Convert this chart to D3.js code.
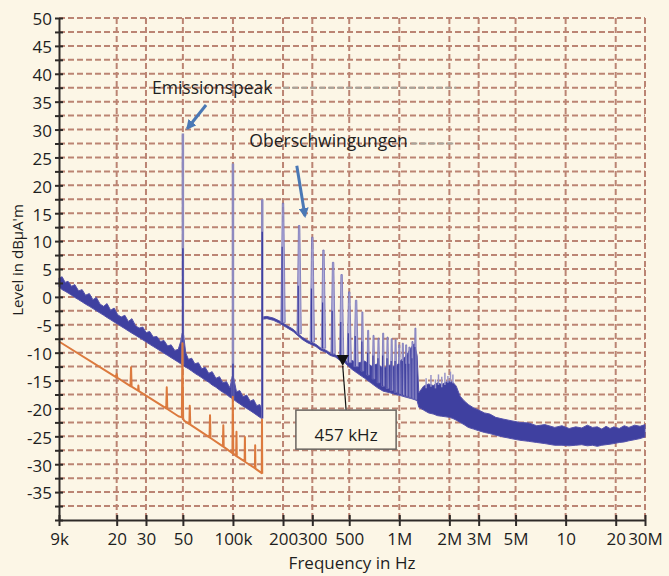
<!DOCTYPE html>
<html>
<head>
<meta charset="utf-8">
<script src="https://cdn.jsdelivr.net/npm/d3@7"></script>
<style>
  body { margin: 0; background: #fcf6e6; }
  svg { display: block; font-family: "Open Sans", sans-serif; }
</style>
</head>
<body>
<svg id="chart"></svg>
<script>
const width = 669;
const height = 576;

// axis ticks
const xTickValues = [9e3, 2e4, 3e4, 5e4, 1e5, 2e5, 3e5, 5e5, 1e6, 2e6, 3e6, 5e6, 1e7, 2e7, 3e7];
const xTickLabels = ["9k", "20", "30", "50", "100k", "200", "300", "500", "1M", "2M", "3M", "5M", "10", "20", "30M"];
const yLabelValues = [-35, -30, -25, -20, -15, -10, -5, 0, 5, 10, 15, 20, 25, 30, 35, 40, 45, 50];

// blue trace, 9 kHz - 150 kHz: noise band (upper / lower edge, dBµA/m)
const bandAFreq = [9000, 9400, 9800, 10200, 10700, 11200, 11800, 12400, 13000, 13700, 14400, 15100, 15900, 16700,
  17500, 18400, 19300, 20300, 21300, 22400, 23500, 24700, 26000, 27300, 28700, 30100, 31600, 33200, 34900, 36700,
  38500, 40500, 42500, 44700, 46900, 48500, 49500, 50500, 52000, 54000, 56500, 59000, 62000, 65000, 68000, 71500,
  75000, 79000, 83000, 87000, 91500, 96000, 99000, 101000, 105000, 110000, 115000, 121000, 127000, 133000, 139000,
  145000, 149000];
const bandAHigh = [3.4, 3.6, 2.6, 2.8, 1.9, 2.2, 1.1, 1.3, 0.3, 0.6, -0.5, -0.1, -1.3, -1.7, -1.2, -2.4, -2.0, -3.2,
  -3.6, -3.3, -4.4, -3.9, -5.2, -5.6, -5.4, -6.4, -6.2, -7.2, -7.1, -8.0, -7.8, -8.8, -8.6, -9.6, -9.4, -8.0, -6.5,
  -6.8, -10.0, -11.2, -11.0, -12.0, -11.8, -12.9, -12.6, -13.7, -13.4, -14.6, -14.3, -15.4, -15.2, -16.3, -14.2,
  -14.5, -17.0, -16.8, -17.9, -17.6, -18.7, -18.4, -19.5, -19.3, -20.1];
const bandALow = [1.8, 1.3, 1.0, 0.7, 0.3, -0.1, -0.5, -0.9, -1.3, -1.7, -2.1, -2.5, -2.9, -3.3, -3.7, -4.1, -4.5,
  -4.9, -5.3, -5.7, -6.1, -6.5, -6.9, -7.3, -7.7, -8.1, -8.5, -8.9, -9.3, -9.7, -10.1, -10.5, -10.9, -11.3, -11.7,
  -12.0, -12.2, -12.4, -12.6, -12.9, -13.3, -13.7, -14.1, -14.5, -14.9, -15.3, -15.8, -16.2, -16.7, -17.1, -17.5,
  -18.0, -18.2, -18.4, -18.8, -19.2, -19.6, -20.0, -20.4, -20.8, -21.2, -21.6, -21.8];

// blue trace, 150 kHz - 30 MHz
const bandBFreq = [150500, 160000, 175000, 190000, 210000, 230000, 260000, 280000, 315000, 335000, 365000, 385000,
  415000, 435000, 465000, 485000, 520000, 560000, 620000, 680000, 740000, 800000, 880000, 950000, 1020000, 1100000,
  1170000, 1230000, 1280000, 1310000, 1400000, 1500000, 1600000, 1700000, 1800000, 1900000, 2000000, 2100000,
  2200000, 2320000, 2450000, 2600000, 2800000, 3000000, 3250000, 3500000, 3800000, 4200000, 4700000, 5300000,
  6000000, 6700000, 7500000, 8600000, 9500000, 10500000, 11500000, 12500000, 13500000, 14500000, 15500000,
  16500000, 17500000, 18500000, 19500000, 21000000, 22500000, 24000000, 26000000, 28000000, 30000000];
const bandBHigh = [-3.6, -3.5, -3.8, -4.3, -5.1, -5.8, -7.2, -7.8, -8.5, -9.1, -9.6, -10.1, -10.4, -10.9, -11.1,
  -11.6, -11.4, -11.9, -11.5, -12.4, -12.0, -12.8, -12.2, -12.6, -11.4, -10.6, -9.2, -8.4, -10.5, -17.2, -16.0,
  -15.6, -15.9, -15.4, -15.7, -15.3, -15.1, -15.3, -16.0, -17.8, -18.6, -19.3, -19.9, -20.3, -20.8, -21.0, -21.6,
  -21.9, -22.2, -22.5, -22.6, -23.1, -22.9, -23.4, -23.1, -23.6, -23.3, -23.5, -23.0, -23.4, -23.3, -23.7, -23.2,
  -23.6, -23.3, -23.6, -23.1, -23.4, -23.0, -23.2, -22.9];
const bandBLow = [-4.0, -3.9, -4.2, -4.7, -5.5, -6.2, -7.6, -8.2, -8.9, -9.5, -10.0, -10.5, -10.8, -11.3, -11.6,
  -12.2, -13.0, -13.7, -14.6, -15.5, -16.3, -16.9, -17.2, -17.5, -17.7, -18.0, -18.2, -18.4, -18.6, -19.8, -20.3,
  -20.8, -21.0, -21.3, -21.4, -21.5, -21.6, -21.8, -22.1, -22.5, -22.9, -23.4, -23.7, -24.0, -24.3, -24.5, -24.8,
  -25.1, -25.4, -25.7, -25.9, -26.1, -26.3, -26.6, -26.6, -26.7, -26.6, -26.5, -26.7, -26.6, -26.8, -26.6, -26.5,
  -26.4, -26.3, -26.1, -26.0, -25.8, -25.6, -25.4, -25.1];

// main emission peaks (blue trace)
const peakFreq = [50000, 100000, 150000];
const peakBase = [-12.2, -18.4, -21.8];
const peakInner = [8.7, -12.0, 11.7];
const peakTop = [29.3, 23.9, 17.5];

// harmonics of the 50 kHz emission (Oberschwingungen)
const harmFreq = [200000, 250000, 300000, 350000, 400000, 450000, 500000, 550000, 600000, 650000, 700000, 750000,
  800000, 850000, 900000, 950000, 1000000, 1050000, 1100000, 1150000, 1200000, 1250000];
const harmBase = [-4.6, -6.6, -8.1, -9.2, -10.2, -10.9, -11.8, -12.5, -13.3, -14.0, -14.7, -15.4, -16.0, -16.4,
  -16.8, -17.1, -17.4, -17.6, -17.8, -18.0, -18.2, -18.4];
const harmInner = [9.0, 2.0, 1.5, -1.0, -2.5, -4.5, -6.5, -7.0, -8.0, -10.0, -10.5, -11.0, -10.5, -11.0, -11.5,
  -11.5, -12.0, -11.5, -12.0, -12.0, -11.0, -9.0];
const harmTop = [16.8, 12.8, 10.7, 8.4, 6.2, 4.0, 0.9, -0.6, -2.7, -6.0, -6.9, -7.4, -6.5, -7.2, -7.5, -7.7, -8.6,
  -8.3, -8.6, -9.0, -8.0, -5.6];

// narrow noise spikes 1.4 - 2.2 MHz
const spikeFreq = [1450000, 1550000, 1650000, 1720000, 1800000, 1880000, 1960000, 2030000, 2100000];
const spikeBase = [-16.4, -16.1, -16.4, -15.8, -16.2, -15.8, -15.4, -15.3, -15.5];
const spikeTop = [-14.6, -14.0, -14.8, -13.9, -14.3, -13.6, -14.2, -13.4, -13.9];

// orange trace (9 kHz - 150 kHz)
const orangeFreq = [9000, 19800, 20000, 20200, 24200, 24400, 24600, 26900, 27000, 27200, 39700, 40000, 40300,
  47000, 49300, 49700, 50200, 50800, 54700, 55000, 55400, 72300, 72800, 73300, 87000, 87500, 88000, 99300, 99800,
  100500, 104500, 105000, 105500, 117500, 118000, 118500, 135500, 136000, 136500, 149000, 149500, 150000];
const orangeLevel = [-8.0, -14.4, -13.8, -14.5, -16.0, -12.6, -16.1, -16.8, -15.9, -16.9, -20.0, -16.2, -20.1,
  -21.4, -21.6, -8.3, -21.8, -22.2, -22.8, -19.5, -22.9, -25.2, -21.2, -25.3, -26.8, -23.0, -26.9, -28.0, -17.9,
  -28.1, -28.5, -24.2, -28.6, -29.5, -25.1, -29.6, -30.7, -26.6, -30.8, -31.6, -22.0, -31.7];

// marker
const markerFreq = 457000;
const markerLevel = -12.4;

const svg = d3.select("#chart")
  .attr("width", width)
  .attr("height", height);

svg.append("rect")
  .attr("width", width)
  .attr("height", height)
  .attr("fill", "#fcf6e6");

const x = d3.scaleLog().domain([9e3, 3e7]).range([59, 645]);
const y = d3.scaleLinear().domain([-40, 50]).range([520, 18]);

const gridColor = "#bb8473";

// grid
const grid = svg.append("g");
grid.selectAll("line.h")
  .data(d3.range(-37.5, 50.1, 2.5))
  .enter()
  .append("line")
  .attr("x1", x(9e3))
  .attr("x2", x(3e7))
  .attr("y1", d => y(d))
  .attr("y2", d => y(d))
  .attr("stroke", gridColor)
  .attr("stroke-width", 2)
  .attr("stroke-dasharray", "6,3");

grid.selectAll("line.v")
  .data(xTickValues.slice(1))
  .enter()
  .append("line")
  .attr("x1", d => x(d))
  .attr("x2", d => x(d))
  .attr("y1", y(50))
  .attr("y2", y(-40))
  .attr("stroke", gridColor)
  .attr("stroke-width", 2)
  .attr("stroke-dasharray", "6,3");

// greyish leftover dashes behind the labels
grid.append("line")
  .attr("x1", x(200000)).attr("x2", x(2200000))
  .attr("y1", y(37.5)).attr("y2", y(37.5))
  .attr("stroke", "#a8a49a").attr("stroke-width", 2).attr("stroke-dasharray", "6,3");
grid.append("line")
  .attr("x1", x(1180000)).attr("x2", x(2200000))
  .attr("y1", y(27.5)).attr("y2", y(27.5))
  .attr("stroke", "#a8a49a").attr("stroke-width", 2).attr("stroke-dasharray", "6,3");

const blue = "#3f40a0";
const lavender = "#9894c8";

const area = d3.area()
  .x(d => x(d.f))
  .y0(d => y(d.lo))
  .y1(d => y(d.hi));

const bandA = bandAFreq.map((f, i) => ({ f: f, hi: bandAHigh[i], lo: bandALow[i] }));
const bandB = bandBFreq.map((f, i) => ({ f: f, hi: bandBHigh[i], lo: bandBLow[i] }));

[bandA, bandB].forEach(band => {
  svg.append("path")
    .datum(band)
    .attr("d", area)
    .attr("fill", blue)
    .attr("stroke", "#5552ab")
    .attr("stroke-width", 1)
    .attr("stroke-linejoin", "round");
});

// harmonics
harmFreq.forEach((f, i) => {
  const cx = x(f);
  const wb = f <= 550000 ? 2.2 : 1.3;
  const wt = f <= 550000 ? 0.7 : 0.5;
  const yb = y(harmBase[i]);
  const yt = y(harmTop[i]);
  svg.append("path")
    .attr("d", `M${cx - wb},${yb} L${cx - wt},${yt} L${cx + wt},${yt} L${cx + wb},${yb} Z`)
    .attr("fill", "#aeaad6")
    .attr("stroke", "#7471b8")
    .attr("stroke-width", 0.8);
  svg.append("line")
    .attr("x1", cx - wb * 0.4).attr("x2", cx - wb * 0.4)
    .attr("y1", yb).attr("y2", y(harmInner[i]))
    .attr("stroke", blue)
    .attr("stroke-width", 1.2);
});

// noise spikes
svg.selectAll("line.spike")
  .data(spikeFreq)
  .enter()
  .append("line")
  .attr("x1", d => x(d))
  .attr("x2", d => x(d))
  .attr("y1", (d, i) => y(spikeBase[i]))
  .attr("y2", (d, i) => y(spikeTop[i]))
  .attr("stroke", lavender)
  .attr("stroke-width", 1.5);

// main peaks
svg.selectAll("line.peak")
  .data(peakFreq)
  .enter()
  .append("line")
  .attr("x1", d => x(d))
  .attr("x2", d => x(d))
  .attr("y1", (d, i) => y(peakBase[i]))
  .attr("y2", (d, i) => y(peakTop[i]))
  .attr("stroke", "#8e8abf")
  .attr("stroke-width", 2.5);

svg.selectAll("line.peakInner")
  .data(peakFreq)
  .enter()
  .append("line")
  .attr("x1", d => x(d))
  .attr("x2", d => x(d))
  .attr("y1", (d, i) => y(peakBase[i]))
  .attr("y2", (d, i) => y(peakInner[i]))
  .attr("stroke", blue)
  .attr("stroke-width", 1.5);

// orange trace
const orange = orangeFreq.map((f, i) => ({ f: f, v: orangeLevel[i] }));
svg.append("path")
  .datum(orange)
  .attr("d", d3.line().x(d => x(d.f)).y(d => y(d.v)))
  .attr("fill", "none")
  .attr("stroke", "#dc7a3e")
  .attr("stroke-width", 2)
  .attr("stroke-linejoin", "round");

// axes
const xAxis = d3.axisBottom(x)
  .tickValues(xTickValues)
  .tickFormat((d, i) => xTickLabels[i])
  .tickSizeOuter(0);

const gx = svg.append("g")
  .attr("transform", "translate(0," + y(-40) + ")")
  .call(xAxis);
gx.select(".domain").attr("stroke", "#2e2a28").attr("stroke-width", 2);
gx.selectAll(".tick line").attr("y1", -5).attr("y2", 6).attr("stroke", "#2e2a28").attr("stroke-width", 2);
gx.selectAll(".tick text")
  .attr("y", 13)
  .attr("dy", "0.71em")
  .attr("font-size", 17)
  .attr("font-family", "Open Sans")
  .attr("fill", "#1e1e1e");

const yAxis = d3.axisLeft(y)
  .tickValues(d3.range(-40, 50.1, 2.5))
  .tickFormat(d => yLabelValues.includes(d) ? String(d) : "")
  .tickSizeOuter(0);

const gy = svg.append("g")
  .attr("transform", "translate(" + x(9e3) + ",0)")
  .call(yAxis);
gy.select(".domain").attr("stroke", "#2e2a28").attr("stroke-width", 2);
gy.selectAll(".tick line").attr("x1", 4).attr("x2", -4).attr("stroke", "#2e2a28").attr("stroke-width", 2);
gy.selectAll(".tick text")
  .attr("x", -7)
  .attr("dy", "0.4em")
  .attr("font-size", 17)
  .attr("font-family", "Open Sans")
  .attr("fill", "#1e1e1e");

// axis titles
svg.append("text")
  .attr("x", (x(9e3) + x(3e7)) / 2)
  .attr("y", 569)
  .attr("text-anchor", "middle")
  .attr("font-size", 17)
  .attr("fill", "#1e1e1e")
  .text("Frequency in Hz");

svg.append("text")
  .attr("transform", "translate(23,260) rotate(-90)")
  .attr("text-anchor", "middle")
  .attr("font-size", 15)
  .attr("fill", "#1e1e1e")
  .text("Level in dBµA'm");

// annotations
const defs = svg.append("defs");
defs.append("marker")
  .attr("id", "arrow")
  .attr("viewBox", "0 0 10 10")
  .attr("refX", 8)
  .attr("refY", 5)
  .attr("markerWidth", 10)
  .attr("markerHeight", 10)
  .attr("markerUnits", "userSpaceOnUse")
  .attr("orient", "auto")
  .append("path")
  .attr("d", "M0,0 L10,5 L0,10 z")
  .attr("fill", "#4a78b5");

svg.append("text")
  .attr("x", x(32600))
  .attr("y", y(36.3))
  .attr("font-size", 17.5)
  .attr("fill", "#1e1e1e")
  .text("Emissionspeak");

svg.append("line")
  .attr("x1", x(68900)).attr("y1", y(34.4))
  .attr("x2", x(53200)).attr("y2", y(30.2))
  .attr("stroke", "#4a78b5")
  .attr("stroke-width", 3)
  .attr("marker-end", "url(#arrow)");

svg.append("text")
  .attr("x", x(125500))
  .attr("y", y(26.8))
  .attr("font-size", 17.5)
  .attr("fill", "#1e1e1e")
  .text("Oberschwingungen");

svg.append("line")
  .attr("x1", x(242000)).attr("y1", y(23.5))
  .attr("x2", x(271000)).attr("y2", y(14.5))
  .attr("stroke", "#4a78b5")
  .attr("stroke-width", 3)
  .attr("marker-end", "url(#arrow)");

// 457 kHz marker
const mx = x(markerFreq);
const my = y(markerLevel);
svg.append("line")
  .attr("x1", mx).attr("y1", my)
  .attr("x2", x(479000)).attr("y2", y(-20.3))
  .attr("stroke", "#111")
  .attr("stroke-width", 1.2);
svg.append("path")
  .attr("d", `M${mx - 6},${my - 11} L${mx + 6},${my - 11} L${mx},${my} Z`)
  .attr("fill", "#111");

svg.append("rect")
  .attr("x", x(239000))
  .attr("y", y(-20.3))
  .attr("width", x(957000) - x(239000))
  .attr("height", y(-27.3) - y(-20.3))
  .attr("fill", "#fcf6e6")
  .attr("stroke", "#6a6560")
  .attr("stroke-width", 1.5);

svg.append("text")
  .attr("x", x(479000))
  .attr("y", y(-25.8))
  .attr("text-anchor", "middle")
  .attr("font-size", 17)
  .attr("fill", "#1e1e1e")
  .text("457 kHz");
</script>
</body>
</html>
